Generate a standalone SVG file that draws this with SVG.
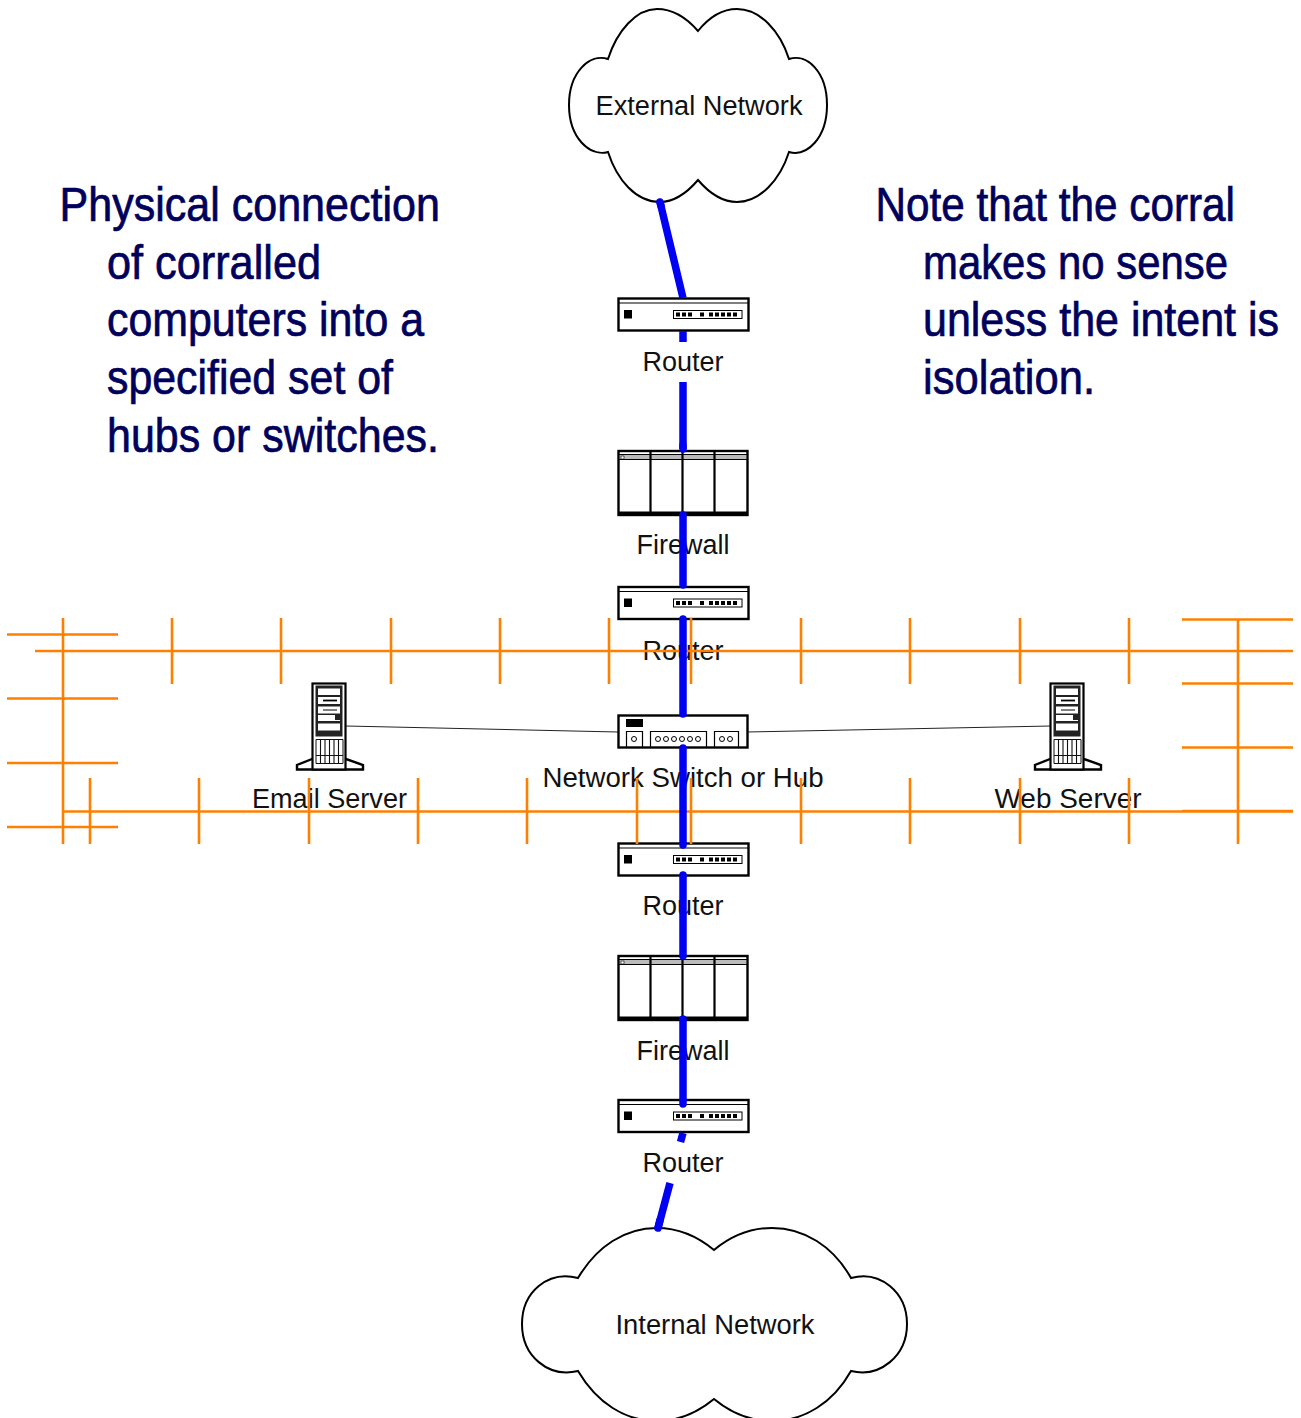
<svg xmlns="http://www.w3.org/2000/svg" width="1301" height="1418" viewBox="0 0 1301 1418">
<style>
text{font-family:"Liberation Sans",Arial,sans-serif}
.lbl{font-size:27px;fill:#111;text-anchor:middle}
.hd{font-size:48px;fill:#00005c;stroke:#00005c;stroke-width:.7}
.cloud{fill:#fff;stroke:#000;stroke-width:2}
.bx{fill:#fff;stroke:#000;stroke-width:2.4}
.thin{fill:none;stroke:#000;stroke-width:1.2}
.k{fill:#000}
.blue{fill:none;stroke:#0000f5;stroke-width:7.5}
.or{fill:none;stroke:#ff8000;stroke-width:2.6}
.wire{fill:none;stroke:#222;stroke-width:1}
.bar{fill:#fff;stroke:#111;stroke-width:.9}
</style>
<defs>
<g id="router-icon">
<rect class="bx" x="618.500" y="298.500" width="130" height="32"/>
<path class="thin" d="M619,303H748" stroke="#555"/>
<rect class="k" x="624" y="310" width="8" height="8.500"/>
<rect x="673.500" y="310.500" width="68.500" height="8" fill="#fff" stroke="#000" stroke-width="1"/>
<path stroke="#000" stroke-width="4" stroke-dasharray="4 2" fill="none" d="M676,314.500H694M700,314.500H704M709,314.500H739"/>
</g>
<g id="firewall-icon">
<rect class="bx" x="618.500" y="451" width="129" height="64"/>
<path fill="#bbb" d="M620,455H746V459H620Z"/>
<path class="thin" d="M619,454.500H747M619,459.500H747"/>
<path stroke="#000" stroke-width="2.200" fill="none" d="M650.500,451V515M682.500,451V515M714.500,451V515"/>
<rect class="k" x="618" y="511.500" width="130" height="4.500"/>
<rect x="621" y="456" width="3" height="3" fill="#fff" stroke="#000" stroke-width=".6"/>
</g>
<g id="server-icon">
<path class="bx" stroke-width="1.800" d="M312,759L297,765V769.500H363V765L346,759Z"/>
<rect x="312.500" y="683.500" width="33" height="86" fill="#fff" stroke="#000" stroke-width="2.200"/>
<rect x="315.500" y="685.500" width="27" height="51" fill="#222"/>
<rect x="318" y="688.500" width="22" height="6.500" fill="#fff"/>
<rect x="318" y="697" width="22" height="7" fill="#fff"/>
<path stroke="#000" stroke-width="1.800" d="M323,700.500H337"/>
<rect x="318" y="706.500" width="22" height="7" fill="#fff"/>
<path stroke="#000" stroke-width="1" d="M323,710H337"/>
<rect x="318" y="715" width="22" height="6" fill="#fff"/>
<rect x="335" y="715" width="5" height="5" fill="#222"/>
<rect x="318" y="723.500" width="22" height="7" fill="#fff"/>
<path fill="none" stroke="#111" stroke-width="1" d="M316,739.500H343V763.500H316Z"/>
<path fill="none" stroke="#111" stroke-width="1.100" d="M320.500,739.500V763.500M325,739.500V763.500M329.500,739.500V763.500M334,739.500V763.500M338.500,739.500V763.500M316,755.500H343"/>
</g>
</defs>
<rect width="1301" height="1418" fill="#fff"/>
<g id="note-left">
<text class="hd" transform="translate(59.500,221) scale(.897,1)" textLength="424" lengthAdjust="spacingAndGlyphs">Physical connection</text>
<text class="hd" transform="translate(107,279) scale(.897,1)" textLength="238.600" lengthAdjust="spacingAndGlyphs">of corralled</text>
<text class="hd" transform="translate(107,336) scale(.897,1)" textLength="353.400" lengthAdjust="spacingAndGlyphs">computers into a</text>
<text class="hd" transform="translate(107,394) scale(.897,1)" textLength="318.800" lengthAdjust="spacingAndGlyphs">specified set of</text>
<text class="hd" transform="translate(107,452) scale(.897,1)" textLength="370.100" lengthAdjust="spacingAndGlyphs">hubs or switches.</text>
</g>
<g id="note-right">
<text class="hd" transform="translate(875.500,221) scale(.897,1)" textLength="400.800" lengthAdjust="spacingAndGlyphs">Note that the corral</text>
<text class="hd" transform="translate(923,279) scale(.897,1)" textLength="340" lengthAdjust="spacingAndGlyphs">makes no sense</text>
<text class="hd" transform="translate(923,336) scale(.897,1)" textLength="396.900" lengthAdjust="spacingAndGlyphs">unless the intent is</text>
<text class="hd" transform="translate(923,394) scale(.897,1)" textLength="191.800" lengthAdjust="spacingAndGlyphs">isolation.</text>
</g>
<g id="external-network">
<path class="cloud" d="M698,31C685,16 672,9 657,9C636,9 617,31 608,59C590,53 569,72 569,105C569,138 590,157 608,152C617,180 636,202 660,202C673,202 686,194 698,180C710,194 722,202 737,202C760,202 780,180 789,152C807,157 827,138 827,105C827,72 807,53 789,59C780,31 760,9 737,9C722,9 710,16 698,31Z"/>
<text class="lbl" x="699" y="115" textLength="207" lengthAdjust="spacingAndGlyphs">External Network</text>
</g>
<g id="internal-network">
<path class="cloud" d="M714,1250C697,1236 678,1228 657,1228C625,1228 597,1246 578,1278C548,1270 522,1292 522,1324C522,1356 548,1378 578,1371C597,1403 625,1421 657,1421C678,1421 697,1413 714,1399C731,1413 750,1421 772,1421C804,1421 833,1403 851,1371C880,1378 907,1356 907,1324C907,1292 880,1270 851,1278C833,1246 804,1228 772,1228C750,1228 731,1236 714,1250Z"/>
<text class="lbl" x="715" y="1334" textLength="199" lengthAdjust="spacingAndGlyphs">Internal Network</text>
</g>
<g id="wires">
<path class="wire" d="M346,726L618,732M747,732L1051,726"/>
</g>
<g id="router-1"><use href="#router-icon"/><text class="lbl" x="683" y="371">Router</text></g>
<g id="firewall-1"><use href="#firewall-icon"/><text class="lbl" x="683" y="554">Firewall</text></g>
<g id="router-2"><use href="#router-icon" y="288.500"/><text class="lbl" x="683" y="660">Router</text></g>
<g id="switch">
<rect class="bx" x="618.500" y="715.500" width="129" height="32"/>
<rect class="k" x="626" y="719" width="17" height="8"/>
<path class="thin" d="M626.500,747V731.500H642.500V747M650.500,747V731.500H706.500V747M714.500,747V731.500H738.500V747"/>
<g fill="#fff" stroke="#000" stroke-width="1"><circle cx="634" cy="739" r="2.500"/><circle cx="658" cy="739" r="2.500"/><circle cx="666" cy="739" r="2.500"/><circle cx="674" cy="739" r="2.500"/><circle cx="682" cy="739" r="2.500"/><circle cx="690" cy="739" r="2.500"/><circle cx="698" cy="739" r="2.500"/><circle cx="722" cy="739" r="2.500"/><circle cx="730" cy="739" r="2.500"/></g>
<text class="lbl" x="683" y="787" textLength="281" lengthAdjust="spacingAndGlyphs">Network Switch or Hub</text>
</g>
<g id="email-server"><use href="#server-icon"/><text class="lbl" x="329.500" y="808" textLength="155" lengthAdjust="spacingAndGlyphs">Email Server</text></g>
<g id="web-server"><use href="#server-icon" x="738"/><text class="lbl" x="1068" y="808" textLength="147" lengthAdjust="spacingAndGlyphs">Web Server</text></g>
<g id="router-3"><use href="#router-icon" y="545"/><text class="lbl" x="683" y="915">Router</text></g>
<g id="firewall-2"><use href="#firewall-icon" y="505"/><text class="lbl" x="683" y="1060">Firewall</text></g>
<g id="router-4"><use href="#router-icon" y="801.500"/><text class="lbl" x="683" y="1172">Router</text></g>
<g id="corral">
<path class="or" d="M35,651H1293M63,811.500H1293M7,634.500H118M7,698.500H118M7,763H118M7,827H118M1182,619.500H1293M1182,683.500H1293M1182,747.500H1293M1182,811H1293"/>
<path class="or" d="M63,618V844M1238,619V844M172,618V684M281,618V684M391,618V684M500,618V684M609,618V684M691,618V684M801,618V684M910,618V684M1020,618V684M1129,618V684M90,778V844M199,778V844M309,778V844M418,778V844M527,778V844M637,778V844M691,778V844M801,778V844M910,778V844M1020,778V844M1129,778V844"/>
</g>
<g id="connectors">
<path class="blue" stroke-linecap="round" d="M683,445V449M683,515V585M683,619V714M683,748V845M683,875V956M683,1019V1104M660,202L661,206M658,1228L660,1220"/>
<path class="blue" d="M683,382V449M660,202L683,298M683,331V342M683,1133L680.500,1142M670,1183L658,1228"/>
</g>
</svg>
